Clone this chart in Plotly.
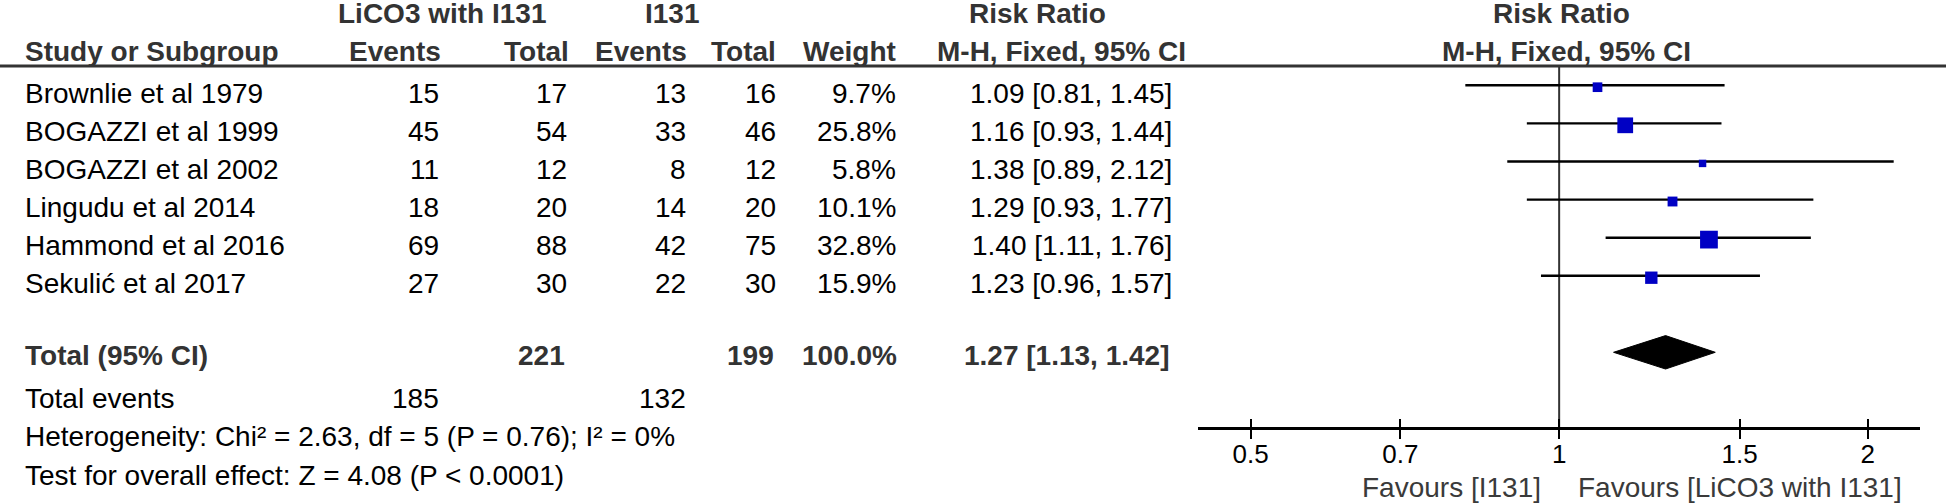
import numpy as np
import plotly.graph_objects as go

# study data
studies = ["Brownlie et al 1979", "BOGAZZI et al 1999", "BOGAZZI et al 2002",
           "Lingudu et al 2014", "Hammond et al 2016", "Sekulić et al 2017"]
events_li = [15, 45, 11, 18, 69, 27]
total_li = [17, 54, 12, 20, 88, 30]
events_i = [13, 33, 8, 14, 42, 22]
total_i = [16, 46, 12, 20, 75, 30]
weights = [9.7, 25.8, 5.8, 10.1, 32.8, 15.9]
rr = [1.09, 1.16, 1.38, 1.29, 1.40, 1.23]
ci_lo = [0.81, 0.93, 0.89, 0.93, 1.11, 0.96]
ci_hi = [1.45, 1.44, 2.12, 1.77, 1.76, 1.57]

# pooled results
sum_total_li = 221
sum_total_i = 199
sum_events_li = 185
sum_events_i = 132
sum_weight = 100.0
pooled_rr = 1.27
pooled_lo = 1.13
pooled_hi = 1.42
chi2 = 2.63
df = 5
p_het = 0.76
i2 = 0
z_val = 4.08

tick_vals = [0.5, 0.7, 1, 1.5, 2]
tick_text = ["0.5", "0.7", "1", "1.5", "2"]

W, H = 1946, 504
ROW0 = 93.3      # pixel centre of first study row
ROWH = 38.1      # pixel height of a row
FONT = "Liberation Sans, Arial, Helvetica, sans-serif"
HEAD = "#333333"


def prow(p):
    return (p - ROW0) / ROWH


ann = []


def txt(s, x, y, anchor="right", bold=False, color="black", size=28):
    if bold:
        s = f"<b>{s}</b>"
    ann.append(dict(text=s, x=x / W, y=y, xref="paper", yref="y",
                    xanchor=anchor, yanchor="middle", showarrow=False,
                    borderpad=0, font=dict(family=FONT, size=size, color=color)))


# header
y_h1 = prow(13.5)
y_h2 = prow(51.5)
txt("LiCO3 with I131", 442.5, y_h1, "center", True, HEAD)
txt("I131", 672, y_h1, "center", True, HEAD)
txt("Risk Ratio", 1037.5, y_h1, "center", True, HEAD)
txt("Risk Ratio", 1561, y_h1, "center", True, HEAD)
txt("Study or Subgroup", 24, y_h2, "left", True, HEAD)
txt("Events", 442, y_h2, "right", True, HEAD)
txt("Total", 570, y_h2, "right", True, HEAD)
txt("Events", 688, y_h2, "right", True, HEAD)
txt("Total", 777, y_h2, "right", True, HEAD)
txt("Weight", 897, y_h2, "right", True, HEAD)
txt("M-H, Fixed, 95% CI", 1187, y_h2, "right", True, HEAD)
txt("M-H, Fixed, 95% CI", 1566, y_h2, "center", True, HEAD)

# study rows
for i, name in enumerate(studies):
    txt(name, 24, i, "left")
    txt(str(events_li[i]), 440, i)
    txt(str(total_li[i]), 568, i)
    txt(str(events_i[i]), 687, i)
    txt(str(total_i[i]), 777, i)
    txt(f"{weights[i]:.1f}%", 897, i)
    txt(f"{rr[i]:.2f} [{ci_lo[i]:.2f}, {ci_hi[i]:.2f}]", 1173, i)

# totals
y_tot = prow(355)
txt("Total (95% CI)", 24, y_tot, "left", True, HEAD)
txt(str(sum_total_li), 566, y_tot, bold=True, color=HEAD)
txt(str(sum_total_i), 775, y_tot, bold=True, color=HEAD)
txt(f"{sum_weight:.1f}%", 898, y_tot, bold=True, color=HEAD)
txt(f"{pooled_rr:.2f} [{pooled_lo:.2f}, {pooled_hi:.2f}]", 1170, y_tot, bold=True, color=HEAD)

y_ev = prow(398)
txt("Total events", 24, y_ev, "left")
txt(str(sum_events_li), 440, y_ev)
txt(str(sum_events_i), 687, y_ev)
txt(f"Heterogeneity: Chi² = {chi2:.2f}, df = {df} (P = {p_het:.2f}); I² = {i2}%",
    24, prow(436.5), "left")
txt(f"Test for overall effect: Z = {z_val:.2f} (P &lt; 0.0001)", 24, prow(475), "left")

# favours labels
y_fav = prow(487)
txt("Favours [I131]", 1542, y_fav, "right", color="#3a3a3a")
txt("Favours [LiCO3 with I131]", 1577, y_fav, "left", color="#3a3a3a")

fig = go.Figure()

y_line = prow(66)
y_axis = prow(428.3)
line_off = -8 / ROWH

# line of no effect
fig.add_trace(go.Scatter(x=[1, 1], y=[y_line, y_axis], mode="lines",
                         line=dict(color="#333333", width=2), hoverinfo="skip"))

for i in range(len(studies)):
    fig.add_trace(go.Scatter(x=[ci_lo[i], ci_hi[i]], y=[i + line_off] * 2, mode="lines",
                             line=dict(color="black", width=2.4), hoverinfo="skip"))

fig.add_trace(go.Scatter(
    x=rr, y=[i + line_off + 0.05 for i in range(len(studies))], mode="markers",
    marker=dict(symbol="square", size=[3.1 * np.sqrt(w) for w in weights],
                color="#0000c4", opacity=1, line=dict(width=0)),
    hoverinfo="skip"))

# pooled diamond
yd = prow(352.3)
dh = 16.7 / ROWH
fig.add_trace(go.Scatter(
    x=[pooled_lo, pooled_rr, pooled_hi, pooled_rr, pooled_lo],
    y=[yd, yd - dh, yd, yd + dh, yd], mode="lines", fill="toself",
    fillcolor="black", line=dict(color="black", width=1), hoverinfo="skip"))

# dummy trace for the upper tick axis
fig.add_trace(go.Scatter(x=[1], y=[y_axis], xaxis="x2", mode="markers",
                         marker=dict(size=0.1, opacity=0), hoverinfo="skip"))

dom = [1198.3 / W, 1920 / W]
rng = [-0.352, 0.352]
pos = (H - 428.3) / H

fig.update_layout(
    width=W, height=H, autosize=False,
    margin=dict(l=0, r=0, t=0, b=0),
    paper_bgcolor="white", plot_bgcolor="white",
    showlegend=False,
    annotations=ann,
    shapes=[dict(type="line", xref="paper", yref="y", x0=0, x1=1, y0=y_line, y1=y_line,
                 line=dict(color="#333333", width=3))],
    xaxis=dict(type="log", range=rng, domain=dom, anchor="free", position=pos,
               showline=True, linecolor="black", linewidth=2.5,
               ticks="outside", ticklen=9, tickwidth=2, tickcolor="black",
               tickvals=tick_vals, ticktext=tick_text, ticklabelstandoff=-7,
               tickfont=dict(family=FONT, size=26, color="black"),
               showgrid=False, zeroline=False, fixedrange=True),
    xaxis2=dict(type="log", range=rng, domain=dom, anchor="free", position=pos,
                overlaying="x", ticks="inside", ticklen=9, tickwidth=2, tickcolor="black",
                tickvals=tick_vals, showticklabels=False, showline=False,
                showgrid=False, zeroline=False, fixedrange=True),
    yaxis=dict(range=[(H - ROW0) / ROWH, -ROW0 / ROWH], visible=False,
               showgrid=False, zeroline=False, fixedrange=True),
)

fig.write_html("out.html", config={"displayModeBar": False},
               post_script="document.body.style.margin='0';")
